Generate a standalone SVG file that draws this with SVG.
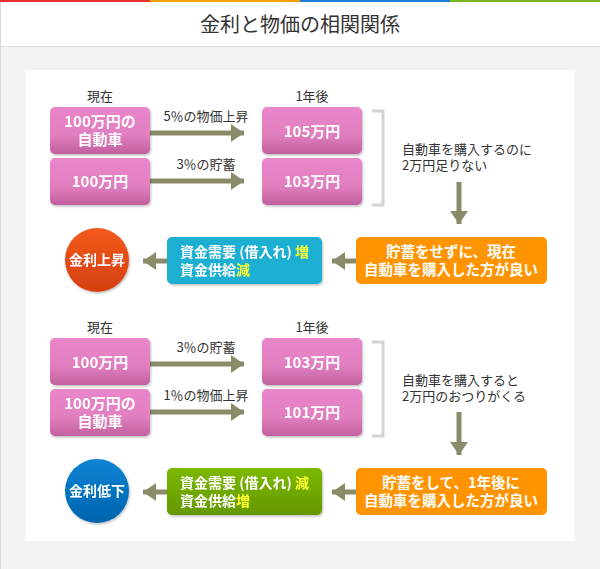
<svg xmlns="http://www.w3.org/2000/svg" width="600" height="569" viewBox="0 0 600 569">
<defs>
<linearGradient id="gPink" x1="0" y1="0" x2="0" y2="1"><stop offset="0" stop-color="#ea86ca"/><stop offset="0.6" stop-color="#e07fc0"/><stop offset="1" stop-color="#c2609f"/></linearGradient>
<linearGradient id="gGreen" x1="0" y1="0" x2="0" y2="1"><stop offset="0" stop-color="#7cb900"/><stop offset="1" stop-color="#659700"/></linearGradient>
<linearGradient id="gRed" x1="0" y1="0" x2="0" y2="1"><stop offset="0" stop-color="#f45a1c"/><stop offset="1" stop-color="#d43f10"/></linearGradient>
<linearGradient id="gBlue" x1="0" y1="0" x2="0" y2="1"><stop offset="0" stop-color="#0a84d4"/><stop offset="1" stop-color="#0064ae"/></linearGradient>
<filter id="sh" x="-10%" y="-10%" width="130%" height="130%"><feDropShadow dx="1" dy="1.5" stdDeviation="1.2" flood-color="#000" flood-opacity="0.25"/></filter>
<marker id="ah" markerWidth="4" markerHeight="4" refX="2.6" refY="2" orient="auto" markerUnits="strokeWidth"><path d="M0,0.2 L2.6,2 L0,3.8 Z" fill="#8b8b69"/></marker>
</defs>
<style>
text{font-family:"Noto Sans CJK JP","Noto Sans",sans-serif}
.lbl{font-size:13px;fill:#333}
.w{font-size:15px;fill:#fff;font-weight:bold;text-anchor:middle}
.ws{font-size:14px;fill:#fff;font-weight:bold}
.wo{font-size:14.5px;fill:#fff;font-weight:bold;text-anchor:middle}
.y{fill:#ffff33}
.c{text-anchor:middle}
.conn{stroke:#8b8b69;stroke-width:5;fill:none;marker-end:url(#ah)}
.br{stroke:#d4d4d4;stroke-width:3;fill:none}
</style>
<rect x="0" y="0" width="600" height="569" fill="#f2f2f2"/>
<rect x="0" y="0" width="600" height="46" fill="#fff"/>
<line x1="0" y1="46.5" x2="600" y2="46.5" stroke="#dcdcdc" stroke-width="1"/>
<line x1="0.5" y1="0" x2="0.5" y2="569" stroke="#d8d8d8" stroke-width="1"/>
<rect x="0" y="0" width="150" height="2" fill="#e8332a"/>
<rect x="150" y="0" width="150" height="2" fill="#f0a000"/>
<rect x="300" y="0" width="150" height="2" fill="#1e7fd8"/>
<rect x="450" y="0" width="150" height="2" fill="#7ab520"/>
<text x="300" y="32" font-size="20" fill="#333" text-anchor="middle">金利と物価の相関関係</text>
<rect x="25" y="70" width="550" height="471" fill="#fff"/>

<g id="connectors">
<line class="conn" x1="150" y1="133" x2="244" y2="133"/>
<line class="conn" x1="150" y1="181" x2="244" y2="181"/>
<line class="conn" x1="459" y1="182" x2="459" y2="224"/>
<line class="conn" x1="356" y1="261" x2="332" y2="261"/>
<line class="conn" x1="167" y1="261" x2="143" y2="261"/>
<line class="conn" x1="150" y1="364" x2="244" y2="364"/>
<line class="conn" x1="150" y1="412" x2="244" y2="412"/>
<line class="conn" x1="459" y1="412" x2="459" y2="455"/>
<line class="conn" x1="356" y1="492" x2="332" y2="492"/>
<line class="conn" x1="167" y1="492" x2="143" y2="492"/>
</g>

<g id="labels1">
<text class="lbl c" x="100" y="101">現在</text>
<text class="lbl c" x="312" y="101">1年後</text>
<text class="lbl c" x="206" y="121">5％の物価上昇</text>
<text class="lbl c" x="206" y="169">3％の貯蓄</text>
<path class="br" d="M372,111 H383 V205 H372"/>
<text class="lbl" x="402" y="154">自動車を購入するのに<tspan x="402" dy="16">2万円足りない</tspan></text>
</g>
<g id="n1a" filter="url(#sh)"><rect x="50" y="107" width="100" height="47" rx="5" fill="url(#gPink)"/><text class="w" x="100" y="127">100万円の<tspan x="100" dy="18">自動車</tspan></text></g>
<g id="n1b" filter="url(#sh)"><rect x="50" y="158" width="100" height="47" rx="5" fill="url(#gPink)"/><text class="w" x="100" y="187">100万円</text></g>
<g id="n1c" filter="url(#sh)"><rect x="262" y="107" width="100" height="47" rx="5" fill="url(#gPink)"/><text class="w" x="312" y="137">105万円</text></g>
<g id="n1d" filter="url(#sh)"><rect x="262" y="158" width="100" height="47" rx="5" fill="url(#gPink)"/><text class="w" x="312" y="187">103万円</text></g>
<g id="n1e"><rect x="356" y="237" width="191" height="47" rx="5" fill="#ff9400"/><text class="wo" x="451" y="257">貯蓄をせずに、現在<tspan x="451" dy="18">自動車を購入した方が良い</tspan></text></g>
<g id="n1f" filter="url(#sh)"><rect x="167" y="237" width="155" height="47" rx="5" fill="#1bafd2"/><text class="ws" x="180" y="257">資金需要 (借入れ) <tspan class="y">増</tspan><tspan x="180" dy="18">資金供給</tspan><tspan class="y">減</tspan></text></g>
<g id="n1g" filter="url(#sh)"><circle cx="97" cy="260" r="32" fill="url(#gRed)"/><text class="ws c" x="97" y="265">金利上昇</text></g>

<g id="labels2">
<text class="lbl c" x="100" y="332">現在</text>
<text class="lbl c" x="312" y="332">1年後</text>
<text class="lbl c" x="206" y="352">3％の貯蓄</text>
<text class="lbl c" x="206" y="400">1％の物価上昇</text>
<path class="br" d="M372,342 H383 V436 H372"/>
<text class="lbl" x="402" y="385">自動車を購入すると<tspan x="402" dy="16">2万円のおつりがくる</tspan></text>
</g>
<g id="n2a" filter="url(#sh)"><rect x="50" y="338" width="100" height="47" rx="5" fill="url(#gPink)"/><text class="w" x="100" y="368">100万円</text></g>
<g id="n2b" filter="url(#sh)"><rect x="50" y="389" width="100" height="47" rx="5" fill="url(#gPink)"/><text class="w" x="100" y="409">100万円の<tspan x="100" dy="18">自動車</tspan></text></g>
<g id="n2c" filter="url(#sh)"><rect x="262" y="338" width="100" height="47" rx="5" fill="url(#gPink)"/><text class="w" x="312" y="368">103万円</text></g>
<g id="n2d" filter="url(#sh)"><rect x="262" y="389" width="100" height="47" rx="5" fill="url(#gPink)"/><text class="w" x="312" y="418">101万円</text></g>
<g id="n2e"><rect x="356" y="468" width="191" height="47" rx="5" fill="#ff9400"/><text class="wo" x="451" y="488">貯蓄をして、1年後に<tspan x="451" dy="18">自動車を購入した方が良い</tspan></text></g>
<g id="n2f" filter="url(#sh)"><rect x="167" y="468" width="155" height="47" rx="5" fill="url(#gGreen)"/><text class="ws" x="180" y="488">資金需要 (借入れ) <tspan class="y">減</tspan><tspan x="180" dy="18">資金供給</tspan><tspan class="y">増</tspan></text></g>
<g id="n2g" filter="url(#sh)"><circle cx="97" cy="491" r="32" fill="url(#gBlue)"/><text class="ws c" x="97" y="496">金利低下</text></g>
</svg>
